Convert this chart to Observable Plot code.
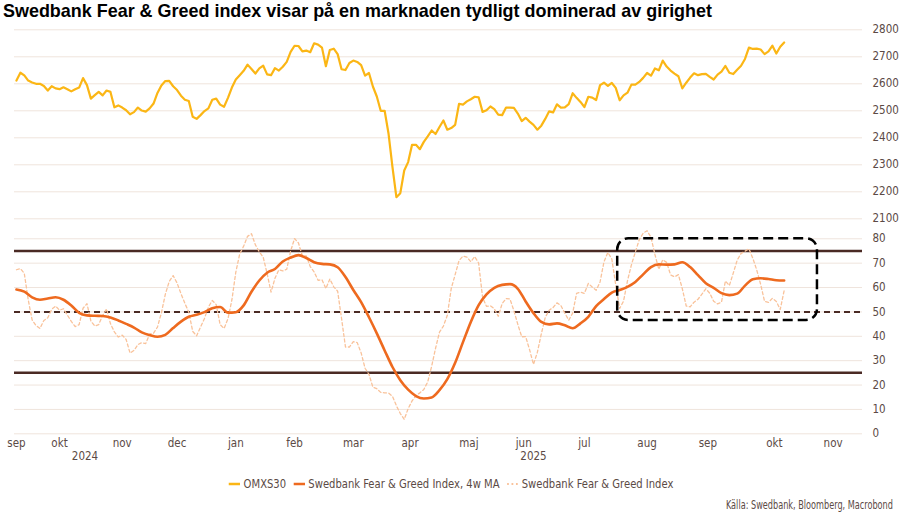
<!DOCTYPE html>
<html>
<head>
<meta charset="utf-8">
<script src="https://cdn.jsdelivr.net/npm/d3@7"></script>
<script src="https://cdn.jsdelivr.net/npm/@observablehq/plot@0.6"></script>
<style>
  body { margin: 0; background: #fff; }
  #wrap { position: relative; width: 900px; height: 515px; overflow: hidden; background: #fff;
          font-family: "Liberation Sans Narrow", "Arial Narrow", "DejaVu Sans Condensed", Roboto, sans-serif; }
  #chart { position: absolute; left: 0; top: 0; }
  #title { position: absolute; left: 3px; top: 0px; white-space: nowrap; color: #000;
           font: bold 19px "Liberation Sans Narrow", "Arial Narrow", "Liberation Sans", Arial, sans-serif;
           transform-origin: 0 0; line-height: 22px; }
  #legend { position: absolute; left: 0; top: 476px; width: 902px; display: flex; justify-content: center;
            align-items: center; font-size: 12.5px; color: #5b4a45; white-space: nowrap; }
  #legend .inner { display: inline-flex; align-items: center; transform-origin: 50% 50%; }
  #legend .item { display: inline-flex; align-items: center; margin: 0 4px; }
  #legend svg { margin-right: 4px; }
  #source { position: absolute; right: 7px; top: 498px; font-size: 11.5px; color: #5b4a45; white-space: nowrap;
            transform-origin: 100% 50%; }
</style>
</head>
<body>
<div id="wrap">
  <div id="chart"></div>
  <div id="title">Swedbank Fear &amp; Greed index visar på en marknaden tydligt dominerad av girighet</div>
  <div id="legend"><div class="inner"></div></div>
  <div id="source">Källa: Swedbank, Bloomberg, Macrobond</div>
</div>
<script>
// ---------- DATA ----------
// OMXS30, one reading every 2nd day starting 2024-09-24
const omxStart = "2024-09-24";
const omxStepDays = 2;
const omxs30 = [
  2612, 2641, 2631, 2612, 2605, 2600, 2600, 2592, 2575, 2591,
  2583, 2580, 2587, 2580, 2572, 2580, 2586, 2621, 2595, 2545,
  2558, 2570, 2557, 2575, 2570, 2513, 2520, 2512, 2502, 2487,
  2495, 2512, 2501, 2497, 2509, 2527, 2566, 2594, 2610, 2611,
  2591, 2577, 2556, 2541, 2536, 2478, 2470, 2484, 2499, 2509,
  2541, 2545, 2523, 2515, 2548, 2586, 2616, 2632, 2648, 2671,
  2655, 2638, 2657, 2667, 2635, 2632, 2658, 2649, 2663, 2681,
  2718, 2741, 2740, 2720, 2723, 2717, 2750, 2745, 2734, 2665,
  2725, 2730, 2710, 2654, 2651, 2677, 2686, 2681, 2669, 2630,
  2640, 2590, 2553, 2500, 2500, 2415, 2291, 2180, 2195, 2279,
  2310, 2374, 2374, 2358, 2385, 2405, 2427, 2414, 2440, 2464,
  2430, 2436, 2448, 2526, 2523, 2535, 2543, 2552, 2550, 2496,
  2502, 2516, 2506, 2486, 2484, 2512, 2512, 2511, 2490, 2462,
  2474, 2460, 2448, 2430, 2445, 2470, 2498, 2494, 2524, 2512,
  2513, 2525, 2565, 2548, 2533, 2514, 2552, 2549, 2540, 2595,
  2604, 2592, 2603, 2585, 2539, 2557, 2567, 2597, 2597, 2607,
  2622, 2640, 2630, 2657, 2650, 2686, 2664, 2649, 2638, 2628,
  2583, 2604, 2623, 2639, 2632, 2636, 2637, 2626, 2616, 2634,
  2645, 2666, 2641, 2636, 2652, 2667, 2692, 2734, 2729, 2730,
  2727, 2710, 2720, 2741, 2712, 2737, 2753
];

// Swedbank Fear & Greed Index, one reading every 2nd day starting 2024-09-24
const fgStart = "2024-09-24";
const fgStepDays = 2;
const fgIndex = [
  67.3, 67.8, 65.8, 55.0, 46.7, 44.4, 43.2, 46.5, 47.6, 51.1,
  52.4, 50.7, 51.3, 48.7, 46.1, 44.0, 44.8, 51.5, 53.4, 46.3,
  44.2, 44.8, 48.5, 51.2, 45.2, 41.8, 39.7, 40.5, 38.7, 33.1,
  34.2, 36.6, 37.4, 37.0, 40.9, 41.3, 43.8, 49.6, 57.2, 62.5,
  64.9, 61.9, 57.5, 53.5, 49.9, 42.0, 40.2, 43.8, 47.3, 52.0,
  54.7, 53.0, 44.8, 43.2, 47.2, 54.9, 66.3, 73.8, 77.0, 81.0,
  82.1, 77.5, 74.7, 72.4, 65.7, 58.1, 63.8, 67.3, 66.8, 67.5,
  75.0, 80.1, 78.3, 73.0, 73.0, 68.6, 66.4, 63.0, 63.2, 59.6,
  63.5, 60.3, 58.5, 47.3, 35.6, 35.6, 37.8, 37.4, 33.2, 26.9,
  24.4, 19.1, 18.5, 17.0, 16.8, 16.7, 15.4, 11.5, 8.3, 5.9,
  10.3, 13.5, 15.7, 16.8, 18.2, 21.3, 27.7, 35.1, 41.7, 44.2,
  48.6, 59.6, 65.3, 71.1, 72.9, 72.5, 70.6, 72.7, 70.0, 56.0,
  52.3, 52.5, 51.3, 48.2, 53.4, 55.5, 55.3, 50.5, 44.9, 39.8,
  39.9, 34.5, 28.5, 33.5, 41.0, 47.7, 50.7, 51.8, 53.7, 52.6,
  49.5, 46.6, 49.5, 57.6, 58.1, 57.6, 61.7, 60.2, 58.9, 62.3,
  70.6, 74.4, 71.7, 61.1, 51.4, 54.5, 62.8, 69.3, 74.5, 79.6,
  82.3, 83.3, 80.6, 73.6, 67.5, 71.4, 70.3, 65.2, 64.4, 65.3,
  59.5, 52.4, 52.1, 54.0, 55.2, 57.3, 59.5, 57.7, 54.4, 53.3,
  54.0, 62.7, 60.8, 65.9, 71.2, 74.0, 74.9, 75.9, 72.0, 67.2,
  61.3, 54.3, 53.9, 55.6, 54.3, 51.0, 58.8
];

// Swedbank Fear & Greed Index, 4w MA, one reading every 4th day starting 2024-09-24
const maStart = "2024-09-24";
const maStepDays = 4;
const fgMA4w = [
  59.2, 58.3, 56.0, 55.0, 55.5, 56.0, 55.0, 52.6, 49.6, 48.6,
  48.4, 48.3, 47.7, 46.5, 45.1, 43.6, 41.6, 40.5, 39.8, 40.6,
  43.4, 46.0, 48.0, 48.8, 49.9, 51.5, 52.0, 49.7, 49.9, 52.7,
  58.3, 62.9, 66.1, 67.6, 70.7, 72.3, 73.3, 72.1, 70.4, 69.7,
  69.5, 68.3, 64.3, 59.0, 54.0, 47.8, 41.2, 34.2, 27.4, 22.0,
  18.1, 15.5, 14.5, 14.9, 17.9, 22.4, 29.1, 37.6, 45.9, 52.8,
  57.2, 59.9, 61.1, 61.4, 59.5, 54.3, 49.5, 45.9, 44.9, 45.3,
  44.5, 43.3, 45.3, 48.0, 52.4, 55.3, 57.9, 59.0, 60.3, 62.3,
  65.4, 68.4, 69.5, 69.4, 69.5, 70.4, 68.4, 65.1, 61.8, 59.9,
  57.7, 56.9, 57.5, 60.8, 63.4, 63.8, 63.5, 63.0, 62.9
];

// Axis
const xDomain = ["2024-09-23", "2025-11-30"];
const monthTickDates = ["2024-09-24", "2024-10-16", "2024-11-17", "2024-12-15", "2025-01-14",
  "2025-02-13", "2025-03-15", "2025-04-13", "2025-05-13", "2025-06-10", "2025-07-11",
  "2025-08-12", "2025-09-12", "2025-10-16", "2025-11-15"];
const monthTickLabels = ["sep", "okt", "nov", "dec", "jan", "feb", "mar", "apr", "maj", "jun",
  "jul", "aug", "sep", "okt", "nov"];
const yearLabelDates = ["2024-10-29", "2025-06-15"];
const yearLabels = ["2024", "2025"];
const fgTicks = [0, 10, 20, 30, 40, 50, 60, 70, 80];
const omxTicks = [2100, 2200, 2300, 2400, 2500, 2600, 2700, 2800];
// Upper panel: OMXS30 2100–2800 shares the axis with the index, drawn in band 88.2–165.74
const omxBandDomain = [2100, 2800];
const omxBandRange = [88.2, 165.74];
const yDomain = [0, 165.74];

// Reference levels and highlight box
const greedLevels = [25, 75];
const neutralLevel = [50];
const highlightBox = [{start: "2025-07-28", end: "2025-11-07", low: 46.5, high: 80}];

// ---------- BUILD ----------
const parse = d3.utcParse("%Y-%m-%d");
const series = (startStr, step, vals) => {
  const s = parse(startStr);
  return vals.map((v, i) => ({date: d3.utcDay.offset(s, i * step), value: v}));
};
const omxData = series(omxStart, omxStepDays, omxs30);
const fgData = series(fgStart, fgStepDays, fgIndex);
const maData = series(maStart, maStepDays, fgMA4w);

const omxBand = d3.scaleLinear().domain(omxBandDomain).range(omxBandRange);
const yTicks = fgTicks.concat(omxTicks.map(omxBand));
const yLabelMap = new Map(yTicks.map((t, i) => [t, String(i < fgTicks.length ? fgTicks[i] : omxTicks[i - fgTicks.length])]));
const xTicks = monthTickDates.map(parse);
const xLabelMap = new Map(xTicks.map((d, i) => [+d, monthTickLabels[i]]));
const years = yearLabelDates.map((d, i) => ({date: parse(d), label: yearLabels[i]}));
const box = highlightBox.map(b => ({...b, start: parse(b.start), end: parse(b.end)}));

const H = 475;
const textColor = "#5b4a45";
const font = '"Liberation Sans Narrow", "Arial Narrow", "DejaVu Sans Condensed", Roboto, sans-serif';

const chart = Plot.plot({
  width: 900,
  height: H,
  marginLeft: 14,
  marginRight: 38,
  marginTop: 29.3,
  marginBottom: H - 433.3,
  style: {fontFamily: font, fontSize: "11.5px", color: textColor, background: "transparent", overflow: "visible"},
  x: {type: "utc", domain: xDomain.map(parse), label: null},
  y: {domain: yDomain, label: null},
  marks: [
    Plot.ruleY(yTicks, {stroke: "#efe4dc", strokeWidth: 1}),
    Plot.axisY(yTicks, {anchor: "right", tickSize: 0, tickPadding: 10, label: null,
      tickFormat: d => yLabelMap.get(d), fill: textColor}),
    Plot.axisX(xTicks, {anchor: "bottom", tickSize: 0, tickPadding: 5, label: null,
      tickFormat: d => xLabelMap.get(+d), fill: textColor}),
    Plot.text(years, {x: "date", text: "label", frameAnchor: "bottom", dy: 25.7, fill: textColor}),
    Plot.ruleY(greedLevels, {stroke: "#4a2a24", strokeWidth: 2.5}),
    Plot.ruleY(neutralLevel, {stroke: "#4a2a24", strokeWidth: 2, strokeDasharray: "6,4"}),
    Plot.line(fgData, {x: "date", y: "value", stroke: "#f9c29a", strokeWidth: 1.3, strokeDasharray: "3,2.5"}),
    Plot.line(maData, {x: "date", y: "value", stroke: "#ee6a1f", strokeWidth: 2.6, curve: "monotone-x"}),
    Plot.line(omxData, {x: "date", y: d => omxBand(d.value), stroke: "#fbb615", strokeWidth: 2.2}),
    Plot.rect(box, {x1: "start", x2: "end", y1: "low", y2: "high", fill: "none", stroke: "#000",
      strokeWidth: 2.5, strokeDasharray: "10,5", rx: 11, ry: 11})
  ]
});
document.getElementById("chart").appendChild(chart);

// Legend
const legendItems = [
  {label: "OMXS30", color: "#fbb615", dash: null, w: 2.5},
  {label: "Swedbank Fear & Greed Index, 4w MA", color: "#ee6a1f", dash: null, w: 2.5},
  {label: "Swedbank Fear & Greed Index", color: "#f9c29a", dash: "2,3", w: 2}
];
const legend = d3.select("#legend .inner");
legendItems.forEach(it => {
  const s = legend.append("span").attr("class", "item");
  const svg = s.append("svg").attr("width", 13).attr("height", 10);
  svg.append("line").attr("x1", 0).attr("x2", 13).attr("y1", 5).attr("y2", 5)
    .attr("stroke", it.color).attr("stroke-width", it.w).attr("stroke-dasharray", it.dash);
  s.append("span").text(it.label);
});

// Fit texts to their widths in the reference (condensed font not available)
function fitWidth(el, target) {
  const w = el.getBoundingClientRect().width;
  if (w > 0) el.style.transform = `scaleX(${target / w})`;
}
fitWidth(document.getElementById("title"), 709);
fitWidth(document.querySelector("#legend .inner"), 452);
fitWidth(document.getElementById("source"), 167);
</script>
</body>
</html>
